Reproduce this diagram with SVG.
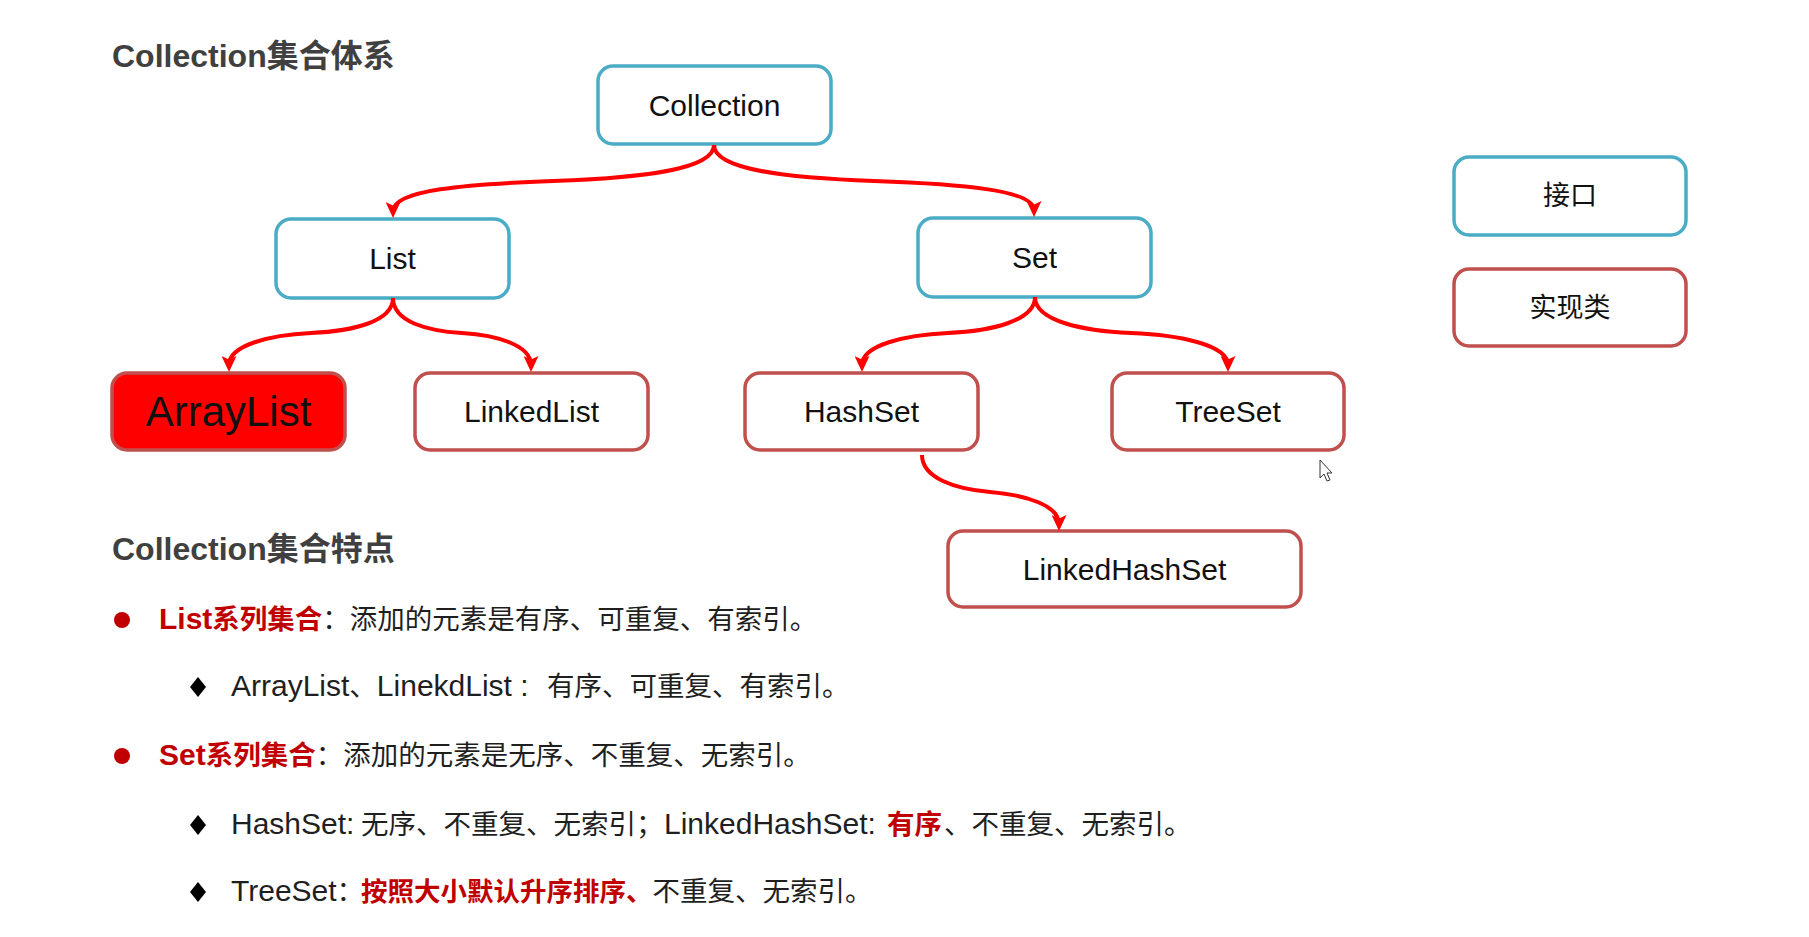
<svg xmlns="http://www.w3.org/2000/svg" width="1809" height="937" viewBox="0 0 1809 937">
<style>
text{font-family:"Liberation Sans","Noto Sans CJK SC",sans-serif;}
.title{font-size:32px;font-weight:bold;fill:#404040;}
.node{font-size:30px;fill:#111111;text-anchor:middle;}
.legend{font-size:27px;fill:#111111;text-anchor:middle;}
.iface{fill:#ffffff;stroke:#4bacc6;stroke-width:3.5;}
.impl{fill:#ffffff;stroke:#c0504d;stroke-width:3.5;}
.body{font-size:27.5px;fill:#1f1f1f;}
.lat{font-size:30px;}
.red{fill:#c00000;font-weight:bold;}
.conn{fill:none;stroke:#ff0000;stroke-width:4;marker-end:url(#arr);}
</style>
<defs>
<marker id="arr" markerUnits="userSpaceOnUse" markerWidth="17" markerHeight="15" refX="9" refY="7.5" orient="auto">
<path d="M0,0 L16,7.5 L0,15 L3.5,7.5 Z" fill="#ff0000"/>
</marker>
</defs>
<rect width="1809" height="937" fill="#ffffff"/>

<text class="title" x="112" y="67">Collection集合体系</text>

<g id="node-collection"><rect class="iface" x="598" y="66" width="233" height="78" rx="15"/><text class="node" x="714.5" y="115.5">Collection</text></g>
<g id="node-list"><rect class="iface" x="276" y="219" width="233" height="79" rx="15"/><text class="node" x="392.5" y="269">List</text></g>
<g id="node-set"><rect class="iface" x="918" y="218" width="233" height="79" rx="15"/><text class="node" x="1034.5" y="268">Set</text></g>
<g id="node-arraylist"><rect x="112" y="373" width="233" height="77" rx="15" fill="#ff0000" stroke="#c0504d" stroke-width="3.5"/><text class="node" x="228.5" y="426" style="font-size:42px">ArrayList</text></g>
<g id="node-linkedlist"><rect class="impl" x="415" y="373" width="233" height="77" rx="15"/><text class="node" x="531.5" y="422">LinkedList</text></g>
<g id="node-hashset"><rect class="impl" x="745" y="373" width="233" height="77" rx="15"/><text class="node" x="861.5" y="422">HashSet</text></g>
<g id="node-treeset"><rect class="impl" x="1112" y="373" width="232" height="77" rx="15"/><text class="node" x="1228" y="422">TreeSet</text></g>
<g id="node-linkedhashset"><rect class="impl" x="948" y="531" width="353" height="76" rx="15"/><text class="node" x="1124.5" y="579.5">LinkedHashSet</text></g>
<g id="legend-interface"><rect class="iface" x="1454" y="157" width="232" height="78" rx="15"/><text class="legend" x="1570" y="205">接口</text></g>
<g id="legend-impl"><rect class="impl" x="1454" y="269" width="232" height="77" rx="15"/><text class="legend" x="1570" y="317">实现类</text></g>

<g id="connectors">
<path class="conn" d="M714,145 C714,170 640,178 553,181 C466,184 393,190 393,211"/>
<path class="conn" d="M714,145 C714,170 788,178 874,181 C960,184 1034,190 1034,210"/>
<path class="conn" d="M393,298 C393,322 352,331 311,333 C270,335 229,345 229,365"/>
<path class="conn" d="M393,298 C393,322 428,331 462,333 C496,335 531,345 531,365"/>
<path class="conn" d="M1035,297 C1035,321 991,331 948,333 C905,335 862,345 862,365"/>
<path class="conn" d="M1035,297 C1035,321 1083,331 1131,333 C1180,335 1228,345 1228,365"/>
<path class="conn" d="M922,455 C922,478 955,489 990,492 C1025,495 1059,505 1059,524"/>
</g>

<path id="cursor" d="M1320,460 L1320,478 L1324,474 L1327,481 L1330,480 L1327,473 L1332,473 Z" fill="#ffffff" stroke="#333333" stroke-width="1"/>

<text class="title" x="112" y="560">Collection集合特点</text>

<circle cx="122" cy="620" r="8" fill="#c00000"/>
<text class="body" x="159" y="629"><tspan class="red lat">List</tspan><tspan class="red">系列集合</tspan>：添加的元素是有序、可重复、有索引。</text>

<path d="M198,677 L206,687 L198,697 L190,687 Z" fill="#000000"/>
<text class="body" x="231" y="696"><tspan class="lat">ArrayList</tspan>、<tspan class="lat">LinekdList :</tspan><tspan x="547">有序、可重复、有索引。</tspan></text>

<circle cx="122" cy="756" r="8" fill="#c00000"/>
<text class="body" x="159" y="765"><tspan class="red lat">Set</tspan><tspan class="red">系列集合</tspan>：添加的元素是无序、不重复、无索引。</text>

<path d="M198,815 L206,825 L198,835 L190,825 Z" fill="#000000"/>
<text class="body" x="231" y="834"><tspan class="lat">HashSet: </tspan><tspan x="361">无序、不重复、无索引；</tspan><tspan class="lat" x="664">LinkedHashSet: </tspan><tspan class="red" x="887">有序</tspan><tspan x="944">、不重复、无索引。</tspan></text>

<path d="M198,882 L206,892 L198,902 L190,892 Z" fill="#000000"/>
<text class="body" x="231" y="901"><tspan class="lat">TreeSet</tspan>：<tspan class="red" x="361" style="font-size:26.5px">按照大小默认升序排序、</tspan>不重复、无索引。</text>
</svg>
